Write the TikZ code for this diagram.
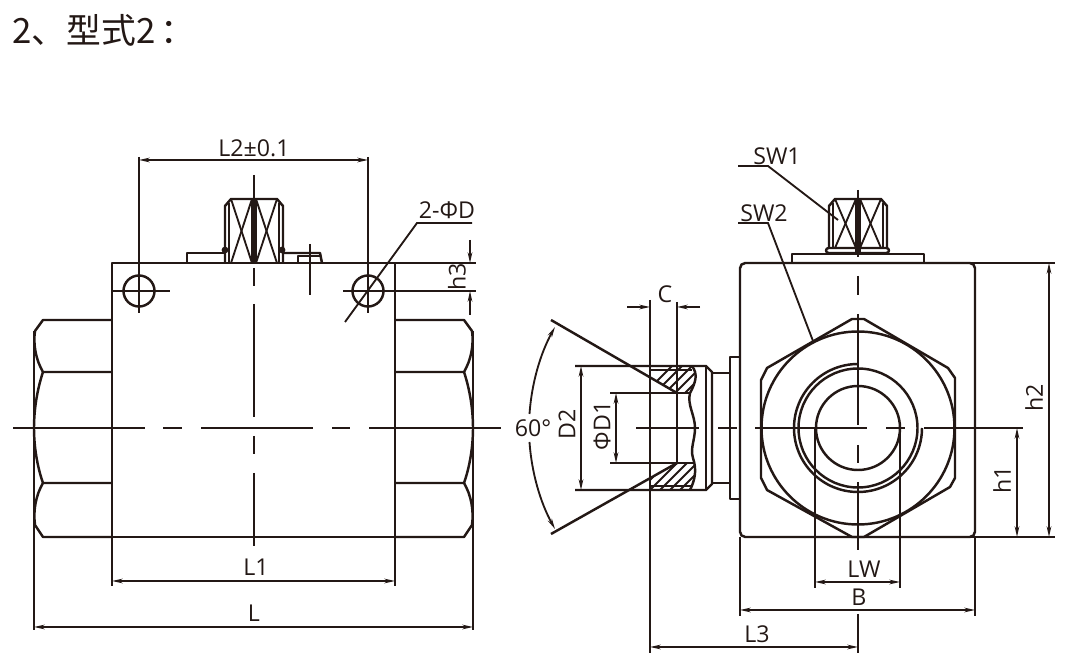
\documentclass[tikz,border=0pt]{standalone}
\usepackage{fontspec}
\setmainfont{Open Sans}
\newfontfamily\cjk{Noto Sans CJK SC}
\usetikzlibrary{arrows.meta}
\definecolor{ink}{HTML}{231815}
\tikzset{x=0.02cm,y=-0.02cm,
	outline/.style={line width=1.4pt,line join=round},
	thinline/.style={line width=1.05pt},
	extline/.style={line width=1.15pt},
	centerline/.style={line width=1.15pt},
	dimline/.style={line width=1.05pt,{Stealth[length=6pt,width=2.6pt]}-{Stealth[length=6pt,width=2.6pt]}},
	oneway/.style={line width=1.05pt,-{Stealth[length=6pt,width=2.6pt]}},
	dimtext/.style={inner sep=0pt,font=\fontsize{13.2}{15}\selectfont,text=ink},
	every node/.style={inner sep=0pt}}

\begin{document}
\begin{tikzpicture}[color=ink]
	\useasboundingbox (0,0) rectangle (1080,665);
	\node[anchor=west,font=\cjk\fontsize{19.8}{23}\selectfont,text=ink] (title) at (12,30) {2、型式2\hspace{3pt}：};

	% left view: body and nuts
	\draw[outline] (112,263) rectangle (395,537);
	\draw[outline] (112,320) -- (43,320) -- (35,331) .. controls (33,345) and (36,360) .. (43,372) -- (112,372);
	\draw[outline] (43,372) .. controls (37,390) and (34,410) .. (34,428) .. controls (34,446) and (37,466) .. (43,483) -- (112,483);
	\draw[outline] (43,483) .. controls (36,495) and (33,510) .. (35,525) -- (43,537) -- (112,537);
	\draw[outline] (395,320) -- (464,320) -- (472,331) .. controls (474,345) and (471,360) .. (464,372) -- (395,372);
	\draw[outline] (464,372) .. controls (470,390) and (473,410) .. (473,428) .. controls (473,446) and (470,466) .. (464,483) -- (395,483);
	\draw[outline] (464,483) .. controls (471,495) and (474,510) .. (472,525) -- (464,537) -- (395,537);

	% left view: stem
	\draw[outline] (225,263) -- (225,206) -- (231,199) -- (277,199) -- (283,206) -- (283,263);
	\draw[thinline] (229,263) -- (229,203) (279,263) -- (279,203);
	\foreach \xa/\xb in {231/252,252/231,256/277,277/256}
		\draw[thinline] (\xa,199) -- (\xb,263);
	\fill[ink] (251,199) rectangle (257,263);
	\fill[ink] (225,250) circle (3.4) (282,250) circle (3.4);
	\draw[outline] (187,263) -- (187,253) -- (225,253);
	\draw[outline] (283,253) -- (320,253) -- (322,263);
	\draw[outline] (298,263) -- (298,256) -- (320,256);

	% left view: holes
	\draw[outline] (139,291) circle (15.5) (368,291) circle (15.5);
	\draw[extline] (112,291) -- (170,291) (343,291) -- (476,291) (395,263) -- (476,263);
	\draw[extline] (139,157) -- (139,313) (368,157) -- (368,313) (310,244) -- (310,295);
	\draw[extline] (112,537) -- (112,586) (395,537) -- (395,586);
	\draw[extline] (34,331) -- (34,630) (473,331) -- (473,630);

	% center lines
	\foreach \xa/\xb in {13/145,163/182,201/313,332/350,369/501,636/699,718/737,755/867,886/905,924/1023}
		\draw[centerline] (\xa,428) -- (\xb,428);
	\foreach \ya/\yb in {175/263,268/286,304/417,436/454,473/546}
		\draw[centerline] (254,\ya) -- (254,\yb);
	\foreach \ya/\yb in {190/257,276/295,314/425,445/463,482/550}
		\draw[centerline] (858,\ya) -- (858,\yb);

	% section
	\begin{scope}
		\clip (650,366) -- (692,366) -- (696,378) -- (690,393) -- (677,393) -- (650,377) -- cycle;
		\foreach \k in {0,...,8}
			\draw[thinline] (640+\k*10,398) -- (675+\k*10,363);
	\end{scope}
	\begin{scope}
		\clip (677,463) -- (695,463) -- (696,470) -- (690,490) -- (650,490) -- (650,479) -- cycle;
		\foreach \k in {0,...,9}
			\draw[thinline] (625+\k*10,495) -- (665+\k*10,455);
	\end{scope}
	\draw[outline] (575,366) -- (706,366) -- (712,372) -- (712,484) -- (706,490) -- (575,490);
	\draw[thinline] (706,366) -- (706,490) (650,370) -- (692,370) (650,486) -- (692,486);
	\draw[outline] (712,373) -- (730,373) (712,483) -- (730,483);
	\draw[outline] (740,357) -- (730,357) -- (730,499) -- (740,499);
	\draw[outline] (692,366) .. controls (698,374) and (696,382) .. (690,393) .. controls (687,405) and (695,415) .. (695,428)
		.. controls (695,440) and (690,448) .. (693,458) .. controls (697,470) and (695,480) .. (690,490);
	\draw[outline] (610,393) -- (690,393) (610,463) -- (677,463) -- (695,463);
	\draw[outline] (551,320) -- (677,393) (551,534) -- (677,463);
	\draw[extline] (650,300) -- (650,653) (677,302) -- (677,463);

	% right view: body, stem and hexagon
	\draw[outline,rounded corners=3pt] (740,537) -- (740,263) -- (975,263) -- (975,537) -- cycle;
	\draw[outline] (970,263) -- (1055,263) (970,537) -- (1055,537);
	\draw[outline] (792,263) -- (792,254) -- (924,254) -- (924,263);
	\draw[outline,rounded corners=1.5pt] (826,253) -- (826,248) -- (889,248) -- (889,253) -- cycle;
	\draw[outline] (829,248) -- (829,206) -- (835,199) -- (881,199) -- (887,206) -- (887,248);
	\draw[thinline] (833,248) -- (833,203) (883,248) -- (883,203);
	\foreach \xa/\xb in {835/856,856/835,860/881,881/860}
		\draw[thinline] (\xa,199) -- (\xb,248);
	\fill[ink] (855,199) rectangle (861,253);
	\draw[outline] (852,319) -- (864,319) -- (948,368) -- (955,378) -- (955,478) -- (950,487) -- (864,537) -- (852,537)
		-- (767,490) -- (761,478) -- (761,380) -- (767,368) -- cycle;
	\draw[outline] (858,428) circle (96.5);
	\draw[outline] (858,428) circle (59.5);
	\draw[outline] (858,428) circle (42);
	\draw[outline] (858,364) arc[start angle=-90,end angle=-360,radius=64];
	\draw[extline] (815,428) -- (815,588) (900,428) -- (900,588);
	\draw[extline] (740,537) -- (740,616) (975,537) -- (975,616) (858,614) -- (858,653);

	% dimensions
	\draw[dimline] (139,160) -- (368,160);
	\node[dimtext] (L2) at (254,148) {L2±0.1};
	\draw[thinline] (472,223) -- (417,223) -- (345,322);
	\node[dimtext] (D) at (447,210) {2-ΦD};
	\draw[oneway] (470,240) -- (470,263);
	\draw[oneway] (470,315) -- (470,291);
	\node[dimtext,rotate=90] (h3) at (457,277) {h3};
	\draw[dimline] (112,581) -- (395,581);
	\node[dimtext] (L1) at (256,567) {L1};
	\draw[dimline] (34,627) -- (473,627);
	\node[dimtext] (L) at (254,613) {L};
	\draw[oneway] (627,307) -- (650,307);
	\draw[oneway] (700,307) -- (677,307);
	\node[dimtext] (C) at (665,294) {C};
	\draw[thinline,-{Stealth[length=6pt,width=2.6pt]}] (529.5,414) .. controls (531.6,384) and (540,354) .. (555,327);
	\draw[thinline,-{Stealth[length=6pt,width=2.6pt]}] (529.5,442) .. controls (531.6,472) and (540,502) .. (555,529);
	\node[dimtext] (angle) at (533,428) {60°};
	\draw[dimline] (581,366) -- (581,490);
	\node[dimtext,rotate=90] (D2) at (567,424) {D2};
	\draw[dimline] (616,393) -- (616,463);
	\node[dimtext,rotate=90] (D1) at (602,426) {ΦD1};
	\draw[thinline] (738,166) -- (768,166) -- (838,220);
	\node[dimtext] (SW1) at (777,156) {SW1};
	\draw[thinline] (738,223) -- (768,223) -- (813,341);
	\node[dimtext] (SW2) at (764,213) {SW2};
	\draw[dimline] (1049,263) -- (1049,537);
	\node[dimtext,rotate=90] (h2) at (1034,398) {h2};
	\draw[dimline] (1017,428) -- (1017,537);
	\node[dimtext,rotate=90] (h1) at (1002,480) {h1};
	\draw[dimline] (815,582) -- (900,582);
	\node[dimtext] (LW) at (864,569) {LW};
	\draw[dimline] (740,610) -- (975,610);
	\node[dimtext] (B) at (859,597) {B};
	\draw[dimline] (650,647) -- (858,647);
	\node[dimtext] (L3) at (757,634) {L3};
\end{tikzpicture}
\end{document}
